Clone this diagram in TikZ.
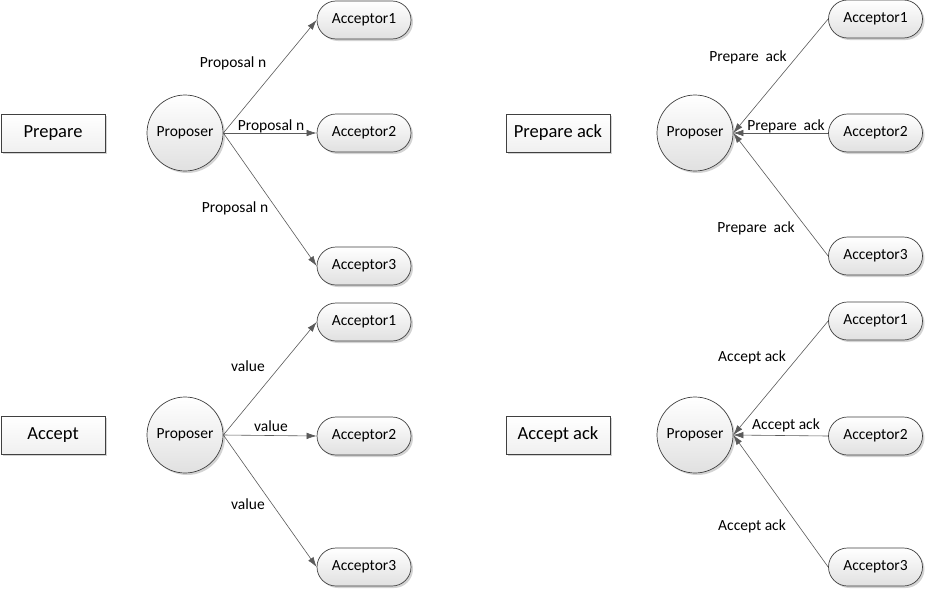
\documentclass[tikz,border=0pt]{standalone}
\usepackage{fontspec}
\setmainfont{Carlito}
\usetikzlibrary{arrows.meta,shadows}
\definecolor{edgecol}{HTML}{404040}
\definecolor{linecol}{HTML}{5A5A5A}
\definecolor{shadcol}{HTML}{C8C8C8}
\tikzset{
  base/.style={draw=edgecol, line width=0.7pt, top color=white, bottom color=black!12,
    drop shadow={shadow xshift=2pt, shadow yshift=-2pt, fill=shadcol, opacity=0.8},
    font=\fontsize{15.5}{17}\selectfont, inner sep=0pt},
  acc/.style={base, rectangle, rounded corners=19pt, minimum width=94pt, minimum height=38pt},
  prop/.style={base, circle, minimum size=76pt},
  phase/.style={draw=edgecol, line width=0.7pt, top color=white, bottom color=black!6,
    drop shadow={shadow xshift=2pt, shadow yshift=-2pt, fill=shadcol, opacity=0.8},
    rectangle, minimum width=104pt, minimum height=38pt, inner sep=0pt,
    font=\fontsize{18.5}{20}\selectfont},
  msg/.style={draw=linecol, line width=0.6pt, -{Latex[length=10pt,width=6.5pt]}},
  lbl/.style={font=\fontsize{15.5}{17}\selectfont, inner sep=1pt}
}
\begin{document}
\begin{tikzpicture}[x=1pt,y=-1pt]
\useasboundingbox[fill=white] (0,0) rectangle (925,589);
% ---------- top left: Prepare
\node[phase] (ph1) at (53,133) {Prepare};
\node[prop] (p1) at (185,133) {Proposer};
\node[acc] (a11) at (364,20) {Acceptor1};
\node[acc] (a12) at (364,133) {Acceptor2};
\node[acc] (a13) at (364,266) {Acceptor3};
\draw[msg] (p1.east) -- (a11.west);
\draw[msg] (p1.east) -- (a12.west);
\draw[msg] (p1.east) -- (a13.west);
\node[lbl] (l11) at (233,63) {Proposal n};
\node[lbl] (l12) at (271,126) {Proposal n};
\node[lbl] (l13) at (235,208) {Proposal n};
% ---------- top right: Prepare ack
\node[phase] (ph2) at (558,133) {Prepare ack};
\node[prop] (p2) at (695,133) {Proposer};
\node[acc] (a21) at (875.5,19) {Acceptor1};
\node[acc] (a22) at (875.5,133) {Acceptor2};
\node[acc] (a23) at (875.5,256) {Acceptor3};
\draw[msg] (a21.west) -- (p2.east);
\draw[msg] (a22.west) -- (p2.east);
\draw[msg] (a23.west) -- (p2.east);
\node[lbl] (l21) at (748,57) {Prepare~ ack};
\node[lbl] (l22) at (786,126) {Prepare~ ack};
\node[lbl] (l23) at (756,228) {Prepare~ ack};
% ---------- bottom left: Accept
\node[phase] (ph3) at (53,435) {Accept};
\node[prop] (p3) at (185,435) {Proposer};
\node[acc] (a31) at (364,322) {Acceptor1};
\node[acc] (a32) at (364,436) {Acceptor2};
\node[acc] (a33) at (364,567) {Acceptor3};
\draw[msg] (p3.east) -- (a31.west);
\draw[msg] (p3.east) -- (a32.west);
\draw[msg] (p3.east) -- (a33.west);
\node[lbl] (l31) at (248,366) {value};
\node[lbl] (l32) at (271,426) {value};
\node[lbl] (l33) at (248,504) {value};
% ---------- bottom right: Accept ack
\node[phase] (ph4) at (558,435) {Accept ack};
\node[prop] (p4) at (695,435) {Proposer};
\node[acc] (a41) at (875.5,321) {Acceptor1};
\node[acc] (a42) at (875.5,436) {Acceptor2};
\node[acc] (a43) at (875.5,567) {Acceptor3};
\draw[msg] (a41.west) -- (p4.east);
\draw[msg] (a42.west) -- (p4.east);
\draw[msg] (a43.west) -- (p4.east);
\node[lbl] (l41) at (752,357) {Accept ack};
\node[lbl] (l42) at (786,425) {Accept ack};
\node[lbl] (l43) at (752,526) {Accept ack};
\end{tikzpicture}
\end{document}
